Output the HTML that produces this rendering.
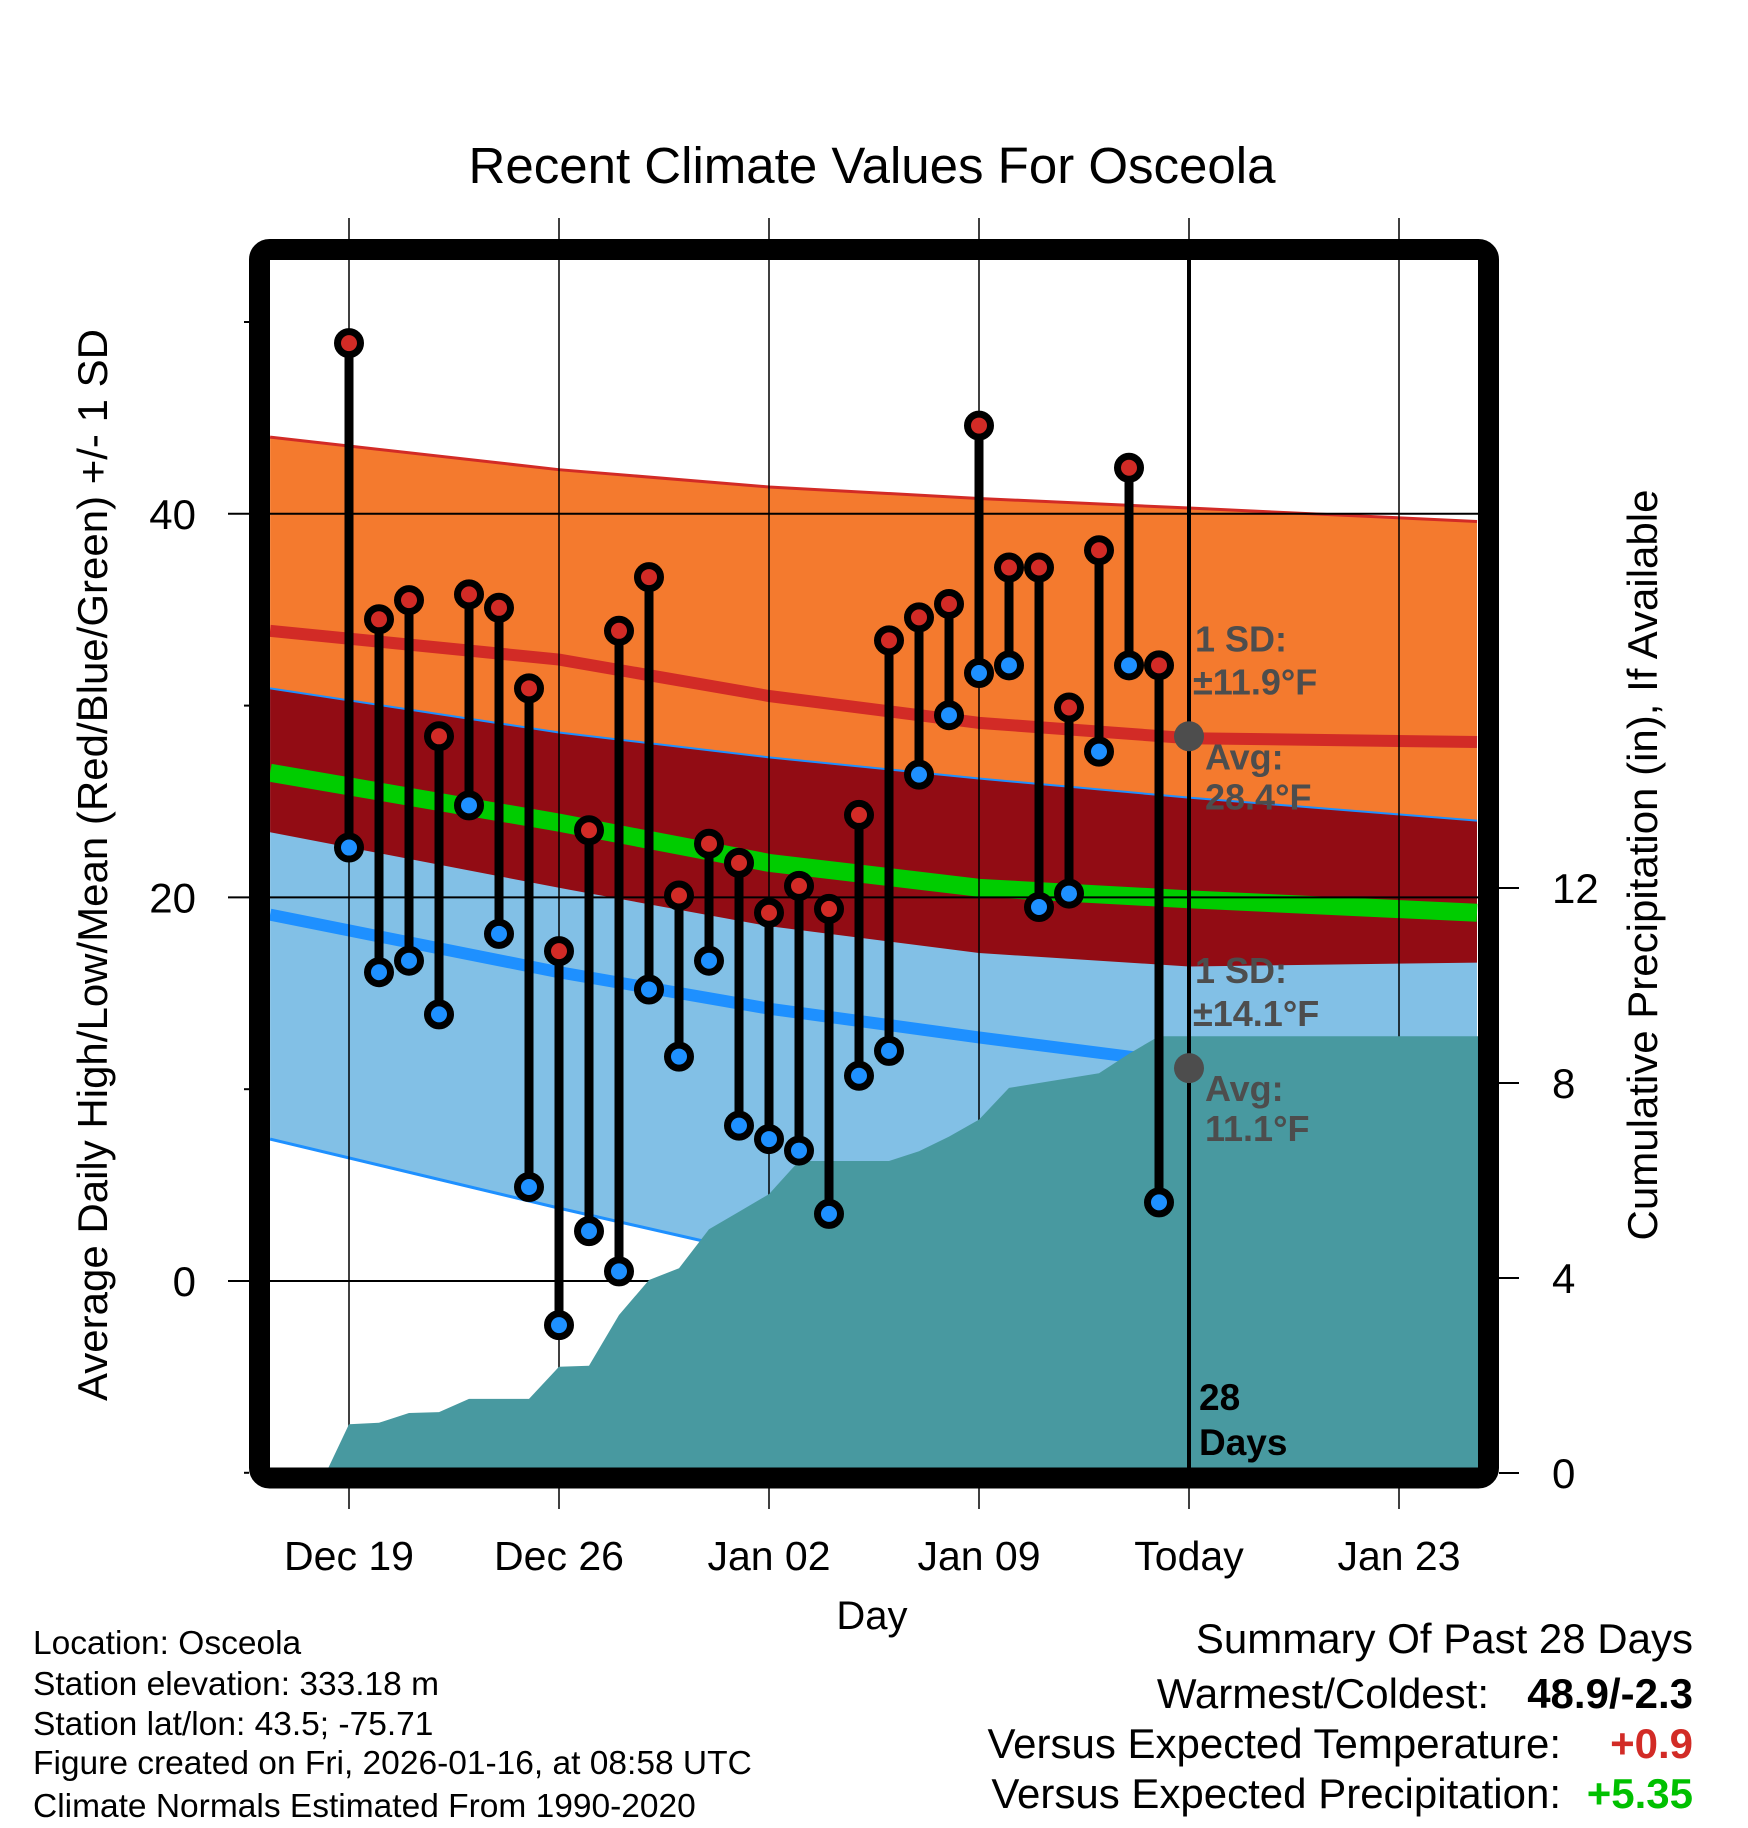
<!DOCTYPE html>
<html><head><meta charset="utf-8"><style>
html,body{margin:0;padding:0;background:#fff;}
svg{display:block;font-family:"Liberation Sans",Arial,sans-serif;}
</style></head><body>
<svg id="chart" width="1748" height="1828" viewBox="0 0 1748 1828" xmlns="http://www.w3.org/2000/svg">
<defs><clipPath id="plotclip"><rect x="270" y="260" width="1208" height="1208"/></clipPath></defs>
<g id="bands" clip-path="url(#plotclip)"></g>
<g id="grid"></g>
<g id="precip" clip-path="url(#plotclip)"></g>
<g id="today"></g>
<g id="stems"></g>
<rect x="259.5" y="249.5" width="1229" height="1228.5" rx="10" fill="none" stroke="#000" stroke-width="21"/>
<g id="axes"></g>
<text x="872" y="183" font-size="51" text-anchor="middle">Recent Climate Values For Osceola</text>
<text x="872" y="1629" font-size="40" text-anchor="middle">Day</text>
<text transform="translate(107,865) rotate(-90)" font-size="42" text-anchor="middle">Average Daily High/Low/Mean (Red/Blue/Green) +/- 1 SD</text>
<text transform="translate(1657,865) rotate(-90)" font-size="42" text-anchor="middle">Cumulative Precipitation (in), If Available</text>
<g font-size="33.5">
<text x="33" y="1654">Location: Osceola</text>
<text x="33" y="1695">Station elevation: 333.18 m</text>
<text x="33" y="1735">Station lat/lon: 43.5; -75.71</text>
<text x="33" y="1774">Figure created on Fri, 2026-01-16, at 08:58 UTC</text>
<text x="33" y="1817">Climate Normals Estimated From 1990-2020</text>
</g>
<g font-size="42">
<text x="1693" y="1653" text-anchor="end">Summary Of Past 28 Days</text>
<text x="1489" y="1708" text-anchor="end">Warmest/Coldest:</text>
<text x="1693" y="1708" text-anchor="end" font-weight="bold">48.9/-2.3</text>
<text x="1561" y="1758" text-anchor="end">Versus Expected Temperature:</text>
<text x="1693" y="1758" text-anchor="end" font-weight="bold" fill="#d22b26">+0.9</text>
<text x="1561" y="1808" text-anchor="end">Versus Expected Precipitation:</text>
<text x="1693" y="1808" text-anchor="end" font-weight="bold" fill="#00c000">+5.35</text>
</g>
</svg>
<script>
// ---- data ----
const highs = [48.9,34.5,35.5,28.4,35.8,35.1,30.9,17.2,23.5,33.9,36.7,20.1,22.8,21.8,19.2,20.6,19.4,24.3,33.4,34.6,35.3,44.6,37.2,37.2,29.9,38.1,42.4,32.1];
const lows  = [22.6,16.1,16.7,13.9,24.8,18.1,4.9,-2.3,2.6,0.5,15.2,11.7,16.7,8.1,7.4,6.8,3.5,10.7,12.0,26.4,29.5,31.7,32.1,19.5,20.2,27.6,32.1,4.1];
const precipDays = [-0.77,0,1,2,3,4,5,6,7,8,9,10,11,12,13,14,15,16,17,18,19,20,21,22,23,24,25,26,27,40];
const precipCum  = [0,1.0,1.03,1.23,1.25,1.52,1.52,1.52,2.18,2.2,3.24,3.96,4.2,5.0,5.36,5.72,6.4,6.4,6.4,6.4,6.6,6.9,7.25,7.9,8.0,8.1,8.2,8.6,8.96,8.96];
const normDays   = [-2.63,7,14,21,28,37.6];
const normHighUp = [44.0,42.3,41.4,40.8,40.3,39.6];
const normHigh   = [33.9,32.4,30.5,29.1,28.3,28.1];
const normHighLo = [23.4,20.5,18.5,17.1,16.4,16.6];
const normMean   = [26.5,23.9,21.8,20.5,19.9,19.2];
const normLowUp  = [30.9,28.6,27.3,26.2,25.2,24.0];
const normLow    = [19.1,16.1,14.2,12.7,11.3,11.0];
const normLowLo  = [7.4,3.8,1.3,-1.0,-3.0,-3.3];
const xTickDays  = [0,7,14,21,28,35];
const xTickLabels= ["Dec 19","Dec 26","Jan 02","Jan 09","Today","Jan 23"];
const yMajor     = [0,20,40];
const yMinor     = [-10,10,30,50];
const pTicks     = [0,4,8,12];
const todayDay = 28, avgHighToday = 28.4, avgLowToday = 11.1;

// ---- scales ----
const X = d => 349 + 30*d;
const Y = t => 1281 - 19.18*t;
const P = p => 1473 - 48.75*p;
const NS = "http://www.w3.org/2000/svg";
function mk(tag, attrs, parent){const e=document.createElementNS(NS,tag);for(const k in attrs)e.setAttribute(k,attrs[k]);parent.appendChild(e);return e;}
const $ = id => document.getElementById(id);

function pts(arr){return normDays.map((d,i)=>X(d)+","+Y(arr[i])).join(" ");}
function band(top,bot){return normDays.map((d,i)=>X(d)+","+Y(top[i])).join(" ")+" "+normDays.slice().reverse().map((d,j)=>{const i=normDays.length-1-j;return X(d)+","+Y(bot[i]);}).join(" ");}
const bands=$("bands");
let e;
e=mk("polygon",{points:band(normHighUp,normHighLo),fill:"#f47a2e"},bands);


e=mk("polygon",{points:band(normLowUp,normLowLo),fill:"#82c0e6"},bands);


e=mk("polygon",{points:band(normLowUp,normHighLo),fill:"#920c14"},bands);


e=mk("polyline",{points:pts(normHighUp),fill:"none",stroke:"#d22b26","stroke-width":3},bands);


e=mk("polyline",{points:pts(normLowUp),fill:"none",stroke:"#1e90ff","stroke-width":2},bands);


e=mk("polyline",{points:pts(normLowLo),fill:"none",stroke:"#1e90ff","stroke-width":3},bands);


e=mk("polyline",{points:pts(normHigh),fill:"none",stroke:"#d22b26","stroke-width":12},bands);


e=mk("polyline",{points:pts(normLow),fill:"none",stroke:"#1e90ff","stroke-width":12},bands);


e=mk("polyline",{points:pts(normMean),fill:"none",stroke:"#00cc00","stroke-width":18},bands);



// grid
const grid=$("grid");
xTickDays.forEach(d=>{
  e=mk("line",{x1:X(d),x2:X(d),y1:218,y2:1509,stroke:"#000","stroke-width":1.5},grid);
  
  
});
yMajor.forEach(t=>{
  e=mk("line",{x1:228,x2:1478,y1:Y(t),y2:Y(t),stroke:"#000","stroke-width":2},grid);
  
  
});

// precip
const pr=$("precip");
let pp=precipDays.map((d,i)=>X(d)+","+P(precipCum[i])).join(" ")+" "+X(precipDays[precipDays.length-1])+","+P(0)+" "+X(precipDays[0])+","+P(0);
e=mk("polygon",{points:pp,fill:"#4899a0"},pr);



// today
const td=$("today");
e=mk("line",{x1:X(todayDay),x2:X(todayDay),y1:260,y2:1468,stroke:"#000","stroke-width":4},td);



// stems
const st=$("stems");
highs.forEach((h,i)=>{
  e=mk("line",{x1:X(i),x2:X(i),y1:Y(h),y2:Y(lows[i]),stroke:"#000","stroke-width":9},st);
  
  
});
highs.forEach((h,i)=>{
  e=mk("circle",{cx:X(i),cy:Y(lows[i]),r:11.5,fill:"#1e90ff",stroke:"#000","stroke-width":7},st);
  
  
  e=mk("circle",{cx:X(i),cy:Y(h),r:11.5,fill:"#d22b26",stroke:"#000","stroke-width":7},st);
  
  
});
// avg markers & labels
[[avgHighToday,"±11.9","28.4",Y(avgHighToday)],[avgLowToday,"±14.1","11.1",Y(avgLowToday)]].forEach(a=>{
  e=mk("circle",{cx:X(todayDay),cy:a[3],r:15,fill:"#4d4d4d"},td);
  
  
  const lines=[["1 SD:",1195,a[3]-85],[a[1]+"°F",1193,a[3]-42],["Avg:",1205,a[3]+33],[a[2]+"°F",1205,a[3]+73]];
  lines.forEach(l=>{
    e=mk("text",{x:l[1],y:l[2],"font-size":36,"font-weight":"bold",fill:"#4d4d4d"},td);
    e.textContent=l[0];
    
    
  });
});
e=mk("text",{x:1199,y:1410,"font-size":37,"font-weight":"bold",fill:"#000"},td);
e.textContent="28";


e=mk("text",{x:1199,y:1455,"font-size":37,"font-weight":"bold",fill:"#000"},td);
e.textContent="Days";



// axes
const ax=$("axes");
xTickDays.forEach((d,i)=>{
  e=mk("text",{x:X(d),y:1570,"font-size":41,"text-anchor":"middle"},ax);
  e.textContent=xTickLabels[i];
  
  
});
yMajor.forEach(t=>{
  e=mk("text",{x:196,y:Y(t)+15,"font-size":42,"text-anchor":"end"},ax);
  e.textContent=String(t);
  
  
});
yMinor.forEach(t=>{
  e=mk("line",{x1:244,x2:249,y1:Y(t),y2:Y(t),stroke:"#000","stroke-width":2},ax);
  
  
});
pTicks.forEach(p=>{
  e=mk("line",{x1:1499,x2:1519,y1:P(p),y2:P(p),stroke:"#000","stroke-width":2},ax);
  
  
  e=mk("text",{x:1552,y:P(p)+15,"font-size":42},ax);
  e.textContent=String(p);
  
  
});
</script>
</body></html>
